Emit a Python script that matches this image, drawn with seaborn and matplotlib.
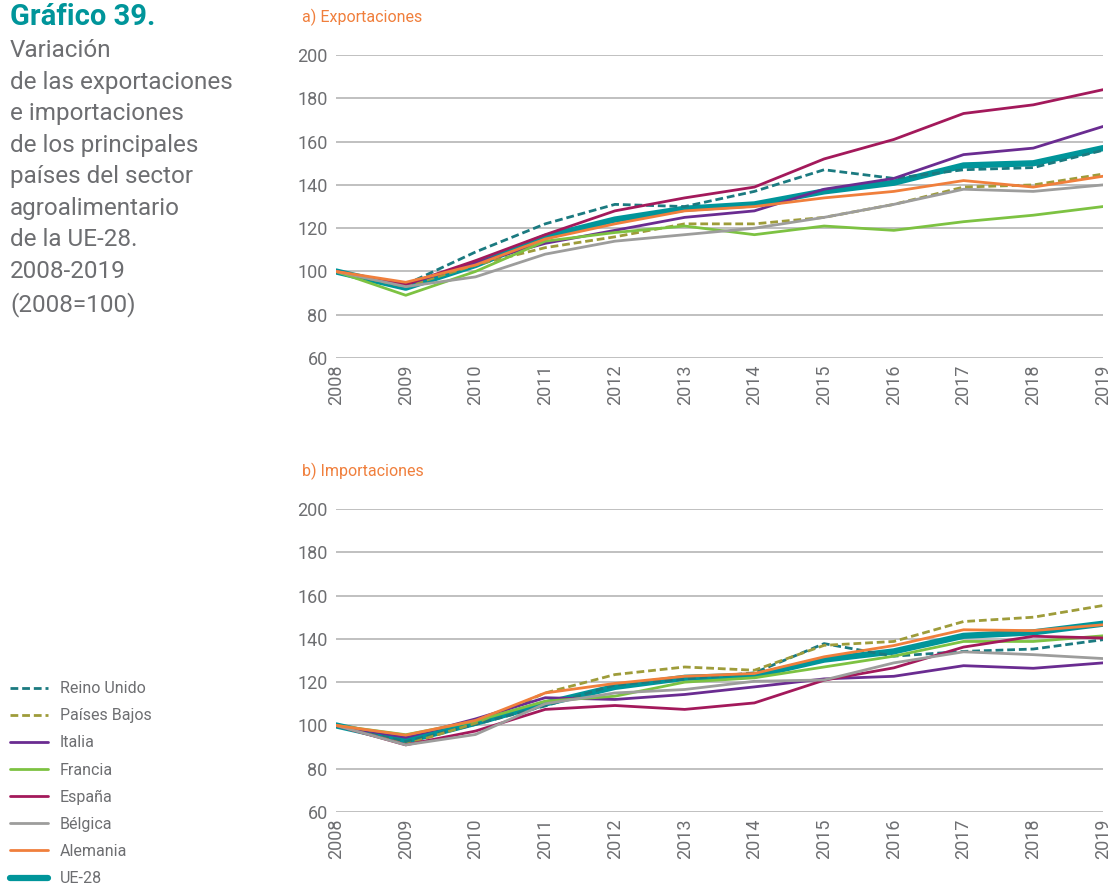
import matplotlib
matplotlib.use("Agg")
import matplotlib.pyplot as plt
import seaborn as sns

sns.set_theme(style="white")
plt.rcParams["font.family"] = ["Roboto", "DejaVu Sans"]

years = list(range(2008, 2020))
series_names = ["Reino Unido", "Países Bajos", "Italia", "Francia", "España", "Bélgica", "Alemania", "UE-28"]

# a) Exportaciones (2008=100)
exp_reino_unido = [100, 94, 109, 122, 131, 130, 137, 147, 143, 147, 148, 156]
exp_paises_bajos = [100, 93, 103, 111, 116, 122, 122, 125, 131, 139, 140, 145]
exp_italia = [100, 94, 104, 113, 119, 125, 128, 138, 143, 154, 157, 167]
exp_francia = [100, 89, 100, 114, 118, 121, 117, 121, 119, 123, 126, 130]
exp_espana = [100, 94, 105, 117, 128, 134, 139, 152, 161, 173, 177, 184]
exp_belgica = [100, 93, 97.5, 108, 114, 117, 120, 125, 131, 138, 137, 140]
exp_alemania = [100, 95, 103, 115, 122, 128, 130, 134, 137, 142, 139, 144]
exp_ue28 = [100, 92.5, 103, 116, 124, 129, 131, 137, 141, 149, 150, 157]

# b) Importaciones (2008=100)
imp_reino_unido = [100, 92.5, 100.5, 109, 118.7, 121.5, 124.3, 137.8, 132, 134.2, 135.3, 139.6]
imp_paises_bajos = [100, 91.2, 101, 115, 123.5, 127, 125.5, 137, 138.8, 148, 150, 155.4]
imp_italia = [100, 94.5, 103, 112.8, 112, 114.3, 117.8, 121.5, 122.7, 127.6, 126.4, 128.9]
imp_francia = [100, 95.7, 102, 111.2, 113.5, 120, 122, 127, 132, 138.8, 138.8, 141.4]
imp_espana = [100, 91, 97.4, 107.4, 109.2, 107.4, 110.4, 120.9, 126.6, 136.2, 141.2, 140.4]
imp_belgica = [100, 91, 95.8, 110, 115, 116.6, 120.4, 121, 128.9, 134, 132.7, 130.9]
imp_alemania = [100, 95.5, 102.3, 115, 119.4, 122.7, 124, 131.7, 136.9, 144.2, 143.8, 146.5]
imp_ue28 = [100, 92.8, 101.2, 110.1, 117.8, 122, 123, 130.4, 134.2, 141.4, 143, 147]

exportaciones = [exp_reino_unido, exp_paises_bajos, exp_italia, exp_francia,
                 exp_espana, exp_belgica, exp_alemania, exp_ue28]
importaciones = [imp_reino_unido, imp_paises_bajos, imp_italia, imp_francia,
                 imp_espana, imp_belgica, imp_alemania, imp_ue28]

colors = ["#1b7a80", "#9e9c3a", "#6a2c91", "#7dc242", "#a3195b", "#9d9d9c", "#f07f3c", "#00959a"]
widths = [2.0, 2.0, 2.0, 2.0, 2.0, 2.0, 2.0, 4.5]
dashed = [True, True, False, False, False, False, False, False]

TEXT_GRAY = "#6d6e71"
TEAL = "#00959a"
ORANGE = "#f07f3c"

fig = plt.figure(figsize=(11.19, 8.88), dpi=100)
ax_exp = fig.add_axes([0.3003, 0.5968, 0.6854, 0.3412])
ax_imp = fig.add_axes([0.3003, 0.0856, 0.6854, 0.3412])


def draw_panel(ax, data, title):
    # UE-28 first so the country lines sit on top
    order = [7, 0, 1, 2, 3, 4, 5, 6]
    for i in order:
        ax = sns.lineplot(x=years, y=data[i], ax=ax, color=colors[i],
                          lw=widths[i], label=series_names[i])
        if dashed[i]:
            ax.lines[-1].set_dashes((2.8, 1.4))
        ax.lines[-1].set_solid_capstyle("round")
    ax.set_xlim(2008, 2019)
    ax.set_ylim(60, 200)
    ax.set_yticks(range(60, 201, 20))
    ax.set_xticks(years)
    ax.set_xticklabels([str(y) for y in years], rotation=90)
    ax.grid(axis="y", color="#b5b5b5", lw=1.2)
    ax.grid(axis="x", visible=False)
    ax.set_axisbelow(True)
    for s in ax.spines.values():
        s.set_visible(False)
    ax.tick_params(axis="both", length=0, labelsize=13, colors=TEXT_GRAY, pad=5)
    ax.tick_params(axis="y", pad=6)
    ax.set_xlabel("")
    ax.set_ylabel("")
    ax.text(-0.045, 1.125, title, transform=ax.transAxes, color=ORANGE,
            fontsize=11.5, ha="left", va="center")
    if ax.get_legend() is not None:
        ax.get_legend().remove()


draw_panel(ax_exp, exportaciones, "a) Exportaciones")
draw_panel(ax_imp, importaciones, "b) Importaciones")

# title block
fig.text(0.009, 0.981, "Gráfico 39.", color=TEAL, fontsize=21, fontweight="bold",
         ha="left", va="center")
fig.text(0.009, 0.956,
         "Variación\nde las exportaciones\ne importaciones\nde los principales\n"
         "países del sector\nagroalimentario\nde la UE-28.\n2008-2019\n(2008=100)",
         color=TEXT_GRAY, fontsize=17.5, ha="left", va="top", linespacing=1.475)

# legend in legend order
handles, labels = ax_exp.get_legend_handles_labels()
lookup = dict(zip(labels, handles))
fig.legend([lookup[n] for n in series_names], series_names, loc="lower left",
           bbox_to_anchor=(0.009, 0.002), frameon=False, fontsize=11.5,
           labelcolor=TEXT_GRAY, handlelength=2.4, handletextpad=0.7,
           labelspacing=0.76, borderpad=0, borderaxespad=0)

plt.savefig("out.png", dpi=100)
plt.close()
